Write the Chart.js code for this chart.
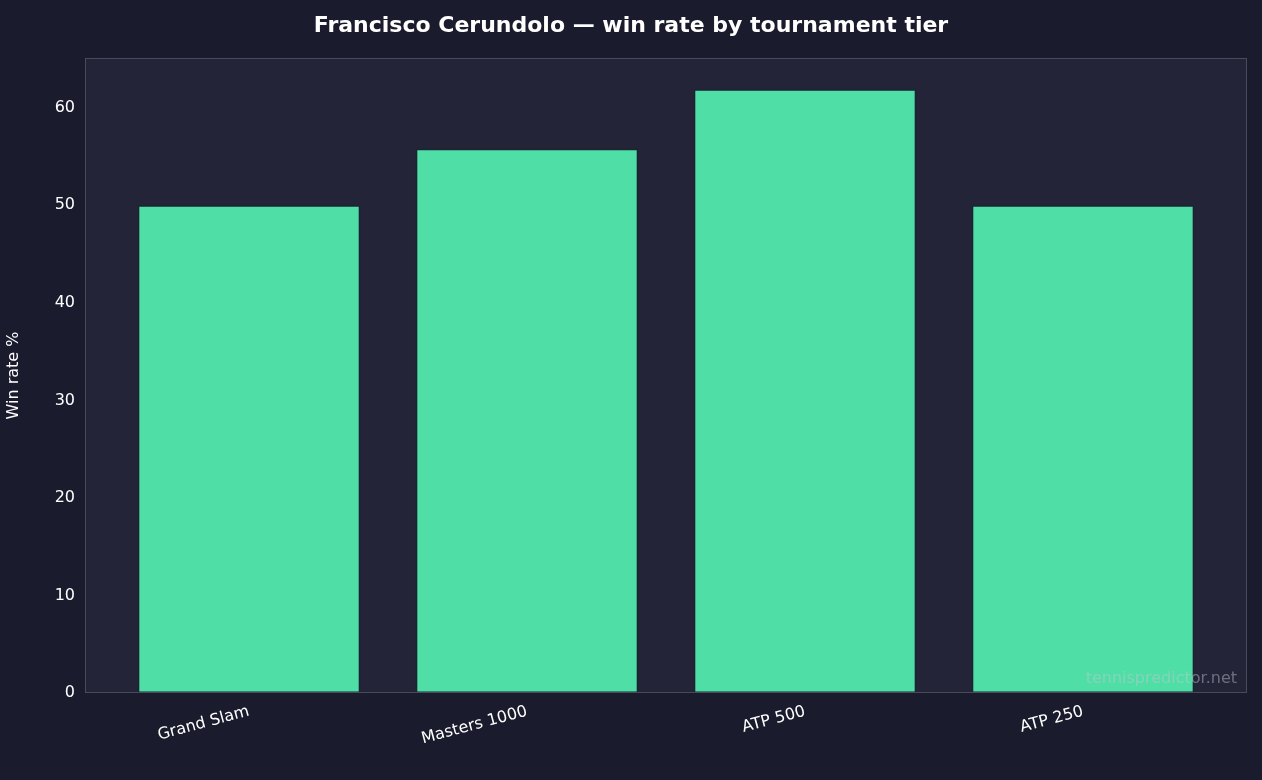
<!DOCTYPE html>
<html><head><meta charset="utf-8">
<script src="https://cdn.jsdelivr.net/npm/chart.js@4/dist/chart.umd.min.js"></script>
<style>html,body{margin:0;background:#1b1b2e;}#w{width:1262px;height:780px;}</style>
</head><body><div id="w"><canvas id="c"></canvas></div>
<script>
const categories = ["Grand Slam", "Masters 1000", "ATP 500", "ATP 250"];
const winRates = [50.0, 55.8, 61.9, 50.0];
const yTicks = [0, 10, 20, 30, 40, 50, 60];
const titleText = "Francisco Cerundolo — win rate by tournament tier";
const watermark = "tennispredictor.net";

const deco = {
  id: 'deco',
  beforeDraw(chart) {
    const {ctx, chartArea: a} = chart;
    ctx.save();
    ctx.fillStyle = '#1b1b2e';
    ctx.fillRect(0, 0, chart.width, chart.height);
    ctx.fillStyle = '#232438';
    ctx.fillRect(a.left, a.top, a.right - a.left, a.bottom - a.top);
    ctx.restore();
  },
  afterDraw(chart) {
    const {ctx, chartArea: a} = chart;
    ctx.save();
    ctx.strokeStyle = '#4a4b5a';
    ctx.lineWidth = 1;
    ctx.strokeRect(a.left + 0.5, a.top + 0.5, a.right - a.left - 1, a.bottom - a.top - 1);
    ctx.fillStyle = '#ffffff';
    ctx.font = 'bold 22px "DejaVu Sans"';
    ctx.textAlign = 'center';
    ctx.textBaseline = 'middle';
    ctx.fillText(titleText, chart.width / 2, 26);
    ctx.fillStyle = 'rgba(200,200,210,0.45)';
    ctx.font = '16px "DejaVu Sans"';
    ctx.textAlign = 'right';
    ctx.textBaseline = 'alphabetic';
    ctx.fillText(watermark, a.right - 10, a.bottom - 10);
    ctx.restore();
  }
};

new Chart(document.getElementById('c'), {
  type: 'bar',
  data: {
    datasets: [{
      data: categories.map((c, i) => ({x: i, y: winRates[i]})),
      backgroundColor: '#4fdea6',
      borderColor: '#1b2433',
      borderWidth: 1.5,
      borderSkipped: false,
      barPercentage: 0.8,
      categoryPercentage: 1
    }]
  },
  options: {
    responsive: true, maintainAspectRatio: false, animation: false,
    devicePixelRatio: 1,
    layout: {padding: {top: 58, right: 15, left: 0, bottom: 0}},
    plugins: {legend: {display: false}, tooltip: {enabled: false}},
    scales: {
      x: {
        type: 'linear', min: -0.59, max: 3.59, offset: false,
        afterBuildTicks(s) { s.ticks = categories.map((c, i) => ({value: i})); },
        afterFit(s) { s.height = 87; },
        grid: {display: false, drawTicks: true, tickLength: 6, color: '#cccccc'},
        border: {display: false},
        ticks: {
          color: '#ffffff', font: {family: 'DejaVu Sans', size: 16},
          maxRotation: 15, minRotation: 15, autoSkip: false,
          callback: (v) => categories[v] ?? ''
        }
      },
      y: {
        min: 0, max: 65.1,
        afterBuildTicks(s) { s.ticks = yTicks.map(v => ({value: v})); },
        afterFit(s) { s.width = 85; },
        grid: {display: false, drawTicks: true, tickLength: 6},
        border: {display: false},
        ticks: {color: '#ffffff', font: {family: 'DejaVu Sans', size: 16}, padding: 4},
        title: {display: true, text: 'Win rate %', color: '#ffffff', font: {family: 'DejaVu Sans', size: 16}}
      }
    }
  },
  plugins: [deco]
});
</script></body></html>
